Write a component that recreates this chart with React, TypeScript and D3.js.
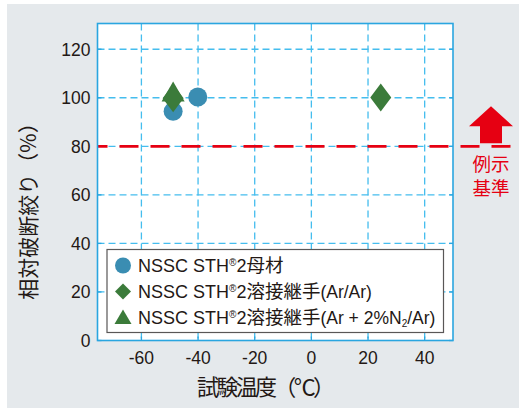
import * as d3 from "d3";
import { useCallback } from "react";

// tick values
const xTicks = [-60, -40, -20, 0, 20, 40];
const yTicks = [0, 20, 40, 60, 80, 100, 120];

// series: [temperature, relative reduction of area %]
const baseMetal: [number, number][] = [
  [-48.8, 94.4],
  [-40.1, 100.3],
];
const weldArAr: [number, number][] = [
  [-48.8, 99.8],
  [24.5, 100.1],
];
const weldArN2: [number, number][] = [[-48.8, 101.2]];

const criterion = 80;

const BLUE_AXIS = "#2aa6e0";
const BLUE_GRID = "#45bdee";
const RED = "#e60012";
const CIRCLE = "#3a8db2";
const GREEN = "#3b7b3a";
const TEXT = "#231815";
const FONT = "'Liberation Sans', 'Noto Sans CJK JP', sans-serif";
const JP = "'Noto Sans CJK JP', 'Liberation Sans', sans-serif";

export default function App() {
  const draw = useCallback((el: SVGSVGElement | null) => {
    if (!el) return;
    const svg = d3.select(el);
    svg.selectAll("*").remove();

    const W = 519;
    const H = 408;
    const margin = { top: 23.5, right: 66, bottom: 67.5, left: 97.5 };
    const width = W - margin.left - margin.right;
    const height = H - margin.top - margin.bottom;

    // grey panel
    svg
      .append("rect")
      .attr("x", 7)
      .attr("y", 4)
      .attr("width", W - 7)
      .attr("height", H - 4)
      .attr("fill", "#e5e9ec");

    const g = svg
      .append("g")
      .attr("transform", `translate(${margin.left},${margin.top})`);

    const x = d3.scaleLinear().domain([-75.5, 50]).range([0, width]);
    const y = d3.scaleLinear().domain([0, 130.6]).range([height, 0]);

    g.append("rect")
      .attr("width", width)
      .attr("height", height)
      .attr("fill", "#fff");

    // grid
    g.selectAll("line.vgrid")
      .data(xTicks)
      .enter()
      .append("line")
      .attr("x1", (d) => x(d))
      .attr("x2", (d) => x(d))
      .attr("y1", 0)
      .attr("y2", height)
      .attr("stroke", BLUE_GRID)
      .attr("stroke-width", 1.3)
      .attr("stroke-dasharray", "7 4");

    g.selectAll("line.hgrid")
      .data(yTicks.filter((d) => d > 0))
      .enter()
      .append("line")
      .attr("x1", 0)
      .attr("x2", width)
      .attr("y1", (d) => y(d))
      .attr("y2", (d) => y(d))
      .attr("stroke", BLUE_GRID)
      .attr("stroke-width", 1.3)
      .attr("stroke-dasharray", "7 4");

    // inner ticks
    const tl = 4;
    xTicks.forEach((d) => {
      g.append("line")
        .attr("x1", x(d))
        .attr("x2", x(d))
        .attr("y1", height)
        .attr("y2", height - tl)
        .attr("stroke", BLUE_AXIS)
        .attr("stroke-width", 1.3);
    });
    yTicks.forEach((d) => {
      g.append("line")
        .attr("x1", 0)
        .attr("x2", tl)
        .attr("y1", y(d))
        .attr("y2", y(d))
        .attr("stroke", BLUE_AXIS)
        .attr("stroke-width", 1.3);
      g.append("line")
        .attr("x1", width)
        .attr("x2", width - tl)
        .attr("y1", y(d))
        .attr("y2", y(d))
        .attr("stroke", BLUE_AXIS)
        .attr("stroke-width", 1.3);
    });

    // tick labels
    g.selectAll("text.xt")
      .data(xTicks)
      .enter()
      .append("text")
      .attr("x", (d) => x(d))
      .attr("y", height + 23)
      .attr("text-anchor", "middle")
      .attr("font-family", FONT)
      .attr("font-size", 17.5)
      .attr("fill", TEXT)
      .text((d) => String(d));

    g.selectAll("text.yt")
      .data(yTicks)
      .enter()
      .append("text")
      .attr("x", -7)
      .attr("y", (d) => y(d) + 6.5)
      .attr("text-anchor", "end")
      .attr("font-family", FONT)
      .attr("font-size", 17.5)
      .attr("fill", TEXT)
      .text((d) => String(d));

    // criterion line
    const yc = y(criterion);
    g.append("line")
      .attr("x1", 0)
      .attr("x2", 512 - margin.left)
      .attr("y1", yc)
      .attr("y2", yc)
      .attr("stroke", RED)
      .attr("stroke-width", 2.8)
      .attr("stroke-dasharray", "19 12")
      .attr("stroke-dashoffset", 9);

    // arrow (relative to criterion line)
    const ax = 491 - margin.left;
    g.append("path")
      .attr(
        "d",
        `M${ax},${yc - 40} L${ax + 22},${yc - 20} L${ax + 11},${yc - 20} L${ax + 11},${yc - 3} L${ax - 11},${yc - 3} L${ax - 11},${yc - 20} L${ax - 22},${yc - 20} Z`
      )
      .attr("fill", RED);

    g.append("text")
      .attr("x", ax)
      .attr("y", yc + 25)
      .attr("text-anchor", "middle")
      .attr("font-family", JP)
      .attr("font-size", 18.5)
      .attr("fill", RED)
      .text("例示");
    g.append("text")
      .attr("x", ax)
      .attr("y", yc + 49)
      .attr("text-anchor", "middle")
      .attr("font-family", JP)
      .attr("font-size", 18.5)
      .attr("fill", RED)
      .text("基準");

    // markers
    const triangle = d3.symbol().type(d3.symbolTriangle).size(230);
    const diamondPath = (hw: number, hh: number) =>
      `M0,${-hh} L${hw},0 L0,${hh} L${-hw},0 Z`;

    g.selectAll("path.tri")
      .data(weldArN2)
      .enter()
      .append("path")
      .attr("transform", (d) => `translate(${x(d[0])},${y(d[1])})`)
      .attr("d", triangle()!)
      .attr("fill", GREEN);

    g.selectAll("circle.base")
      .data(baseMetal)
      .enter()
      .append("circle")
      .attr("cx", (d) => x(d[0]))
      .attr("cy", (d) => y(d[1]))
      .attr("r", 9.5)
      .attr("fill", CIRCLE);

    g.selectAll("path.dia")
      .data(weldArAr)
      .enter()
      .append("path")
      .attr("transform", (d) => `translate(${x(d[0])},${y(d[1])})`)
      .attr("d", diamondPath(10.5, 14))
      .attr("fill", GREEN);

    // plot border
    g.append("rect")
      .attr("width", width)
      .attr("height", height)
      .attr("fill", "none")
      .attr("stroke", BLUE_AXIS)
      .attr("stroke-width", 1.6);

    // legend
    const lg = svg.append("g").attr("transform", "translate(107,249.5)");
    lg.append("rect")
      .attr("width", 336.5)
      .attr("height", 83)
      .attr("fill", "#fff")
      .attr("stroke", "#595757")
      .attr("stroke-width", 1.2);

    const rows = [
      { kind: "circle", jp: "母材", gas: null as null | string[] },
      { kind: "diamond", jp: "溶接継手", gas: ["(Ar/Ar)"] },
      { kind: "triangle", jp: "溶接継手", gas: ["(Ar + 2%N", "2", "/Ar)"] },
    ];
    rows.forEach((r, i) => {
      const cy = 16 + i * 26;
      if (r.kind === "circle") {
        lg.append("circle").attr("cx", 16).attr("cy", cy).attr("r", 8).attr("fill", CIRCLE);
      } else if (r.kind === "diamond") {
        lg.append("path")
          .attr("transform", `translate(16,${cy})`)
          .attr("d", diamondPath(8, 8))
          .attr("fill", GREEN);
      } else {
        lg.append("path")
          .attr("transform", `translate(16,${cy})`)
          .attr("d", `M0,-8 L8.5,6.5 L-8.5,6.5 Z`)
          .attr("fill", GREEN);
      }
      const t = lg
        .append("text")
        .attr("x", 31)
        .attr("y", cy + 6.5)
        .attr("font-family", FONT)
        .attr("font-size", 18)
        .attr("fill", TEXT);
      t.append("tspan").text("NSSC STH");
      t.append("tspan").attr("font-size", 10).attr("dy", -6).text("®");
      t.append("tspan").attr("dy", 6).text("2");
      t.append("tspan").attr("font-family", JP).attr("font-size", 18.5).text(r.jp);
      if (r.gas) {
        if (r.gas.length === 1) {
          t.append("tspan").attr("font-size", 17.5).text(r.gas[0]);
        } else {
          t.append("tspan").attr("font-size", 17.5).text(r.gas[0]);
          t.append("tspan").attr("font-size", 10).attr("dy", 3).text(r.gas[1]);
          t.append("tspan").attr("font-size", 17.5).attr("dy", -3).text(r.gas[2]);
        }
      }
    });

    // axis titles
    svg
      .append("text")
      .attr("transform", `translate(35.5,206) rotate(-90)`)
      .attr("text-anchor", "middle")
      .attr("font-family", JP)
      .attr("font-size", 21)
      .attr("fill", TEXT)
      .text("相対破断絞り（%）");

    svg
      .append("text")
      .attr("x", 197)
      .attr("y", 395)
      .attr("font-family", JP)
      .attr("font-size", 22)
      .attr("textLength", 138)
      .attr("lengthAdjust", "spacing")
      .attr("fill", TEXT)
      .text("試験温度（℃）");
  }, []);

  return (
    <svg
      ref={draw}
      width={519}
      height={408}
      style={{ position: "absolute", left: 0, top: 0, display: "block" }}
    />
  );
}
